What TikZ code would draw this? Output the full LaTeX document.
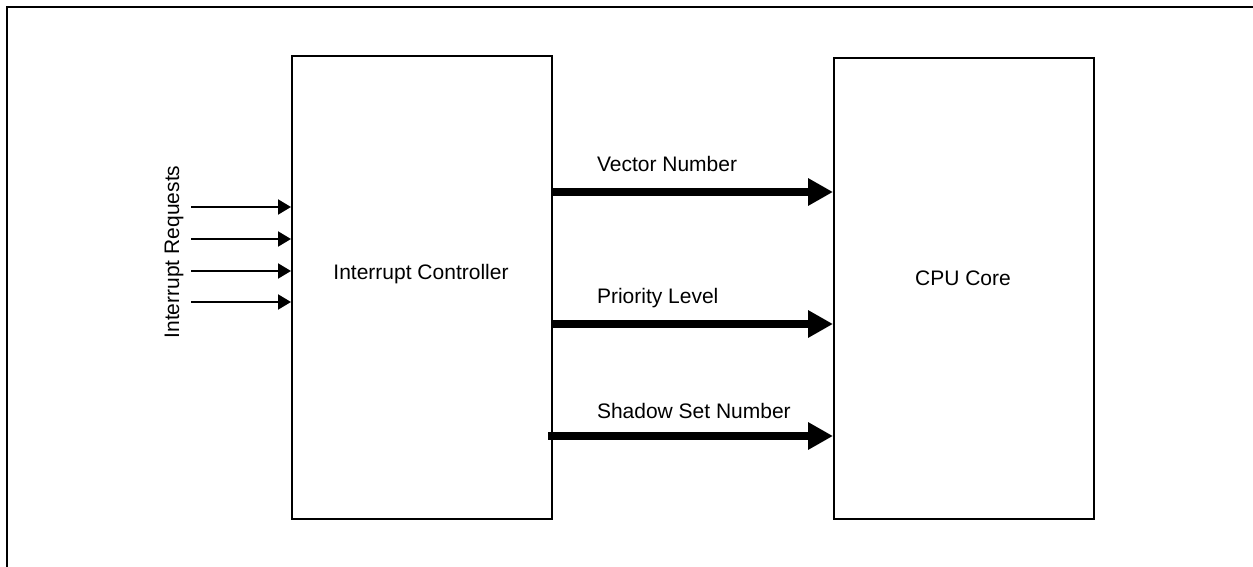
\documentclass[tikz,border=0pt]{standalone}
\usepackage{fontspec}
\setmainfont{Liberation Sans}
\usetikzlibrary{arrows.meta}

\begin{document}
\begin{tikzpicture}[x=0.5pt,y=-0.5pt,line width=1pt]
  \tikzstyle{block}=[rectangle,draw=black,fill=white,minimum width=130pt,inner sep=0pt]
  \tikzstyle{lbl}=[inner sep=0pt,font=\fontsize{10.5pt}{12pt}\selectfont]
  \tikzstyle{irq}=[-{Triangle[length=6.5pt,width=7.5pt]}]
  \tikzstyle{bus}=[line width=4pt,-{Triangle[length=12.5pt,width=13pt]}]

  \useasboundingbox (0,0) rectangle (1253,567);
  \clip (0,0) rectangle (1253,567);
  \draw (7,7) rectangle (1270,585);

  \node[block,minimum height=231.5pt] (IC) at (422,287.5) {};
  \node[block,minimum height=230.5pt] (CPU) at (964,288.5) {};
  \node[lbl,anchor=base] (IC-text) at (421,279) {Interrupt Controller};
  \node[lbl,anchor=base] (CPU-text) at (963,285) {CPU Core};

  \node[lbl,anchor=base,rotate=90] (IRQ-text) at (179,252) {Interrupt Requests};

  \foreach \name/\y in {1/207, 2/239, 3/271, 4/302}
    \coordinate (IRQ-\name) at (191,\y);

  \foreach \name in {1,...,4}
    \draw[irq] (IRQ-\name) -- (IRQ-\name -| IC.west);

  \foreach \name/\x/\y/\base/\text in {1/551/192/171/Vector Number,
                                       2/551/324/303/Priority Level,
                                       3/548/436/418/Shadow Set Number}
  {
    \coordinate (S-\name) at (\x,\y);
    \draw[bus] (S-\name) -- (S-\name -| CPU.west);
    \node[lbl,anchor=base west] (L-\name) at (596,\base) {\text};
  }

\end{tikzpicture}
\end{document}
